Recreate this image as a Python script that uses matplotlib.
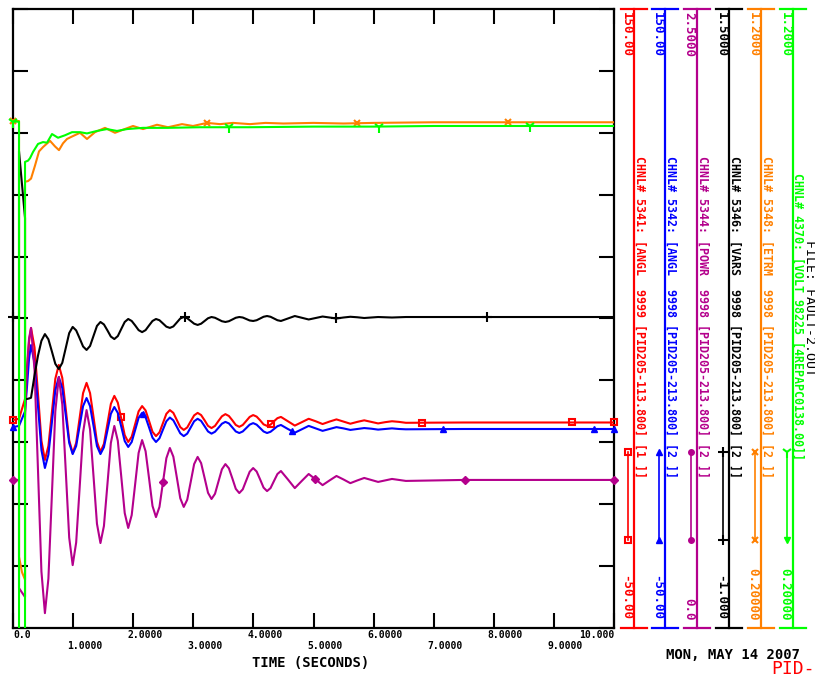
import numpy as np
import matplotlib
matplotlib.use('Agg')
import matplotlib.pyplot as plt
from matplotlib import transforms

# ---------------- data ----------------
# shared time base (s) for the four swinging channels, after fault clearing
t_swing = [0.300, 0.358, 0.416, 0.473, 0.531, 0.589, 0.647, 0.704,
           0.762, 0.820, 0.878, 0.935, 0.993, 1.051, 1.109, 1.166,
           1.224, 1.282, 1.340, 1.397, 1.455, 1.513, 1.571, 1.628,
           1.686, 1.744, 1.802, 1.859, 1.917, 1.975, 2.033, 2.090,
           2.148, 2.206, 2.264, 2.321, 2.379, 2.437, 2.495, 2.552,
           2.610, 2.668, 2.726, 2.783, 2.841, 2.899, 2.957, 3.014,
           3.072, 3.130, 3.188, 3.245, 3.303, 3.361, 3.419, 3.476,
           3.534, 3.592, 3.650, 3.707, 3.765, 3.823, 3.881, 3.938,
           3.996, 4.054, 4.112, 4.169, 4.227, 4.285, 4.343, 4.400,
           4.458,
           4.574, 4.689, 4.805, 4.920, 5.036, 5.151, 5.267, 5.382,
           5.498, 5.613, 5.729, 5.844, 5.960, 6.075, 6.191, 6.306,
           6.422, 6.537,
           7.5, 8.5, 10.0]

# CHNL 5341 CANGL (deg)
red_t = [0.0, 0.1, 0.2, 0.233, 0.267] + t_swing
red_v = [17.2, 17.6, 24.0, 33.0, 42.5,
         46.9, 40.7, 25.6, 10.5, 4.3, 8.8, 19.7, 30.5,
         35.0, 30.8, 20.8, 10.7, 6.5, 9.8, 17.9, 25.9,
         29.2, 25.9, 18.1, 10.2, 6.9, 9.5, 16.0, 22.4,
         25.0, 22.8, 17.6, 12.3, 10.1, 11.8, 15.9, 20.0,
         21.7, 20.3, 16.9, 13.4, 12.0, 13.2, 16.2, 19.2,
         20.4, 19.5, 17.2, 14.9, 14.0, 14.8, 16.8, 18.7,
         19.5, 18.8, 17.1, 15.3, 14.6, 15.3, 16.9, 18.4,
         19.1, 18.5, 17.1, 15.6, 15.0, 15.6, 16.9, 18.2,
         18.8, 18.3, 17.1, 15.8, 15.3, 15.7, 16.8, 17.8,
         18.2,
         16.8, 15.4, 16.5, 17.6, 16.8, 15.9, 16.7, 17.4,
         16.7, 16.0, 16.6, 17.1, 16.6, 16.1, 16.5, 16.8,
         16.6, 16.3,
         16.4, 16.4, 16.4]

# CHNL 5342 CANGL (deg)
blue_t = [0.0, 0.1, 0.2, 0.233, 0.267] + t_swing
blue_v = [14.9, 15.3, 20.0, 28.0, 37.0,
          41.4, 35.6, 21.6, 7.5, 1.7, 6.0, 16.4, 26.8,
          31.1, 27.5, 18.7, 9.8, 6.2, 8.8, 15.3, 21.7,
          24.3, 21.7, 15.3, 8.8, 6.2, 8.4, 13.8, 19.2,
          21.4, 19.5, 15.0, 10.4, 8.5, 10.1, 14.0, 17.9,
          19.5, 18.1, 14.8, 11.5, 10.1, 11.3, 14.1, 16.8,
          18.0, 17.1, 15.0, 12.9, 12.0, 12.8, 14.8, 16.8,
          17.6, 16.9, 15.2, 13.5, 12.8, 13.4, 14.7, 16.0,
          16.6, 16.1, 14.8, 13.5, 13.0, 13.5, 14.6, 15.7,
          16.2, 15.7, 14.6, 13.5, 13.0, 13.4, 14.3, 15.2,
          15.6,
          14.3, 13.1, 14.2, 15.3, 14.5, 13.7, 14.3, 14.9,
          14.5, 14.0, 14.3, 14.6, 14.4, 14.1, 14.3, 14.5,
          14.3, 14.2,
          14.3, 14.3, 14.3]

# CHNL 5344 CPOWR (pu)
purple_t = [0.0, 0.1, 0.1, 0.2, 0.2, 0.233, 0.267] + t_swing
purple_v = [0.598, 0.598, 0.161, 0.125, 0.85, 1.05, 1.17,
            1.212, 1.044, 0.636, 0.228, 0.060, 0.199, 0.537, 0.875,
            1.014, 0.903, 0.634, 0.365, 0.254, 0.345, 0.567, 0.789,
            0.880, 0.802, 0.612, 0.421, 0.343, 0.412, 0.580, 0.747,
            0.816, 0.756, 0.610, 0.464, 0.404, 0.456, 0.582, 0.707,
            0.759, 0.714, 0.604, 0.493, 0.448, 0.489, 0.588, 0.686,
            0.727, 0.692, 0.608, 0.524, 0.489, 0.518, 0.590, 0.662,
            0.691, 0.666, 0.606, 0.546, 0.521, 0.542, 0.592, 0.641,
            0.662, 0.645, 0.604, 0.562, 0.545, 0.560, 0.596, 0.631,
            0.646, 0.632, 0.600, 0.567, 0.553, 0.565, 0.594, 0.622,
            0.634,
            0.600, 0.565, 0.594, 0.622, 0.600, 0.577, 0.596, 0.614,
            0.600, 0.585, 0.596, 0.606, 0.598, 0.590, 0.596, 0.602,
            0.598, 0.594,
            0.598, 0.598, 0.598]

# CHNL 5346 CVARS (pu)
black_t = [0.0, 0.1, 0.1, 0.2, 0.2, 0.233, 0.267] + t_swing
black_v = [0.256, 0.256, 0.926, 0.656, -0.075, -0.075, -0.073,
           -0.070, 0.020, 0.100, 0.160, 0.187, 0.166, 0.117, 0.067,
           0.046, 0.071, 0.131, 0.191, 0.216, 0.202, 0.170, 0.137,
           0.123, 0.139, 0.180, 0.220, 0.236, 0.226, 0.202, 0.177,
           0.167, 0.179, 0.208, 0.236, 0.248, 0.240, 0.222, 0.203,
           0.195, 0.203, 0.222, 0.240, 0.248, 0.243, 0.230, 0.217,
           0.212, 0.218, 0.234, 0.250, 0.256, 0.251, 0.240, 0.229,
           0.224, 0.229, 0.240, 0.251, 0.256, 0.253, 0.246, 0.239,
           0.236, 0.239, 0.246, 0.253, 0.256, 0.254, 0.248, 0.242,
           0.240, 0.243, 0.250, 0.257, 0.260, 0.257, 0.250, 0.243,
           0.240,
           0.250, 0.260, 0.253, 0.246, 0.252, 0.258, 0.254, 0.250,
           0.254, 0.257, 0.255, 0.252, 0.254, 0.256, 0.255, 0.254,
           0.255, 0.256,
           0.256, 0.256, 0.256]

# CHNL 5348 CETRM (pu)
orange_t = [0.0, 0.1, 0.1, 0.15, 0.2, 0.2, 0.25, 0.3, 0.366, 0.433,
            0.5, 0.616, 0.699, 0.765, 0.832, 0.898, 0.982, 1.115, 1.231, 1.364,
            1.531, 1.697, 1.830, 1.997, 2.163, 2.396, 2.579, 2.812, 2.995, 3.228,
            3.444, 3.661, 3.943, 4.2, 4.5, 5.0, 5.5, 6.0, 7.0, 8.0,
            9.0, 10.0]
orange_v = [1.019, 1.019, 0.315, 0.290, 0.278, 0.921, 0.922, 0.926, 0.947, 0.970,
            0.977, 0.987, 0.978, 0.972, 0.983, 0.990, 0.994, 1.000, 0.990, 1.001,
            1.008, 1.000, 1.005, 1.011, 1.006, 1.013, 1.009, 1.014, 1.011, 1.016,
            1.014, 1.016, 1.014, 1.016, 1.015, 1.016, 1.015, 1.016, 1.017, 1.017,
            1.017, 1.017]

# CHNL 4370 CVOLT (pu)
green_t = [0.0, 0.1, 0.1, 0.2, 0.2, 0.25, 0.283, 0.333, 0.416, 0.499,
           0.566, 0.649, 0.749, 0.865, 0.982, 1.115, 1.231, 1.397, 1.564, 1.730,
           1.897, 2.163, 2.563, 3.113, 3.943, 5.0, 6.0, 7.0, 8.0, 9.0,
           10.0]
green_v = [1.018, 1.018, 0.05, 0.05, 0.953, 0.955, 0.959, 0.969, 0.982, 0.985,
           0.984, 0.998, 0.992, 0.996, 1.001, 1.001, 0.999, 1.003, 1.006, 1.003,
           1.006, 1.008, 1.008, 1.009, 1.009, 1.010, 1.010, 1.011, 1.011, 1.011,
           1.011]

# symbol positions along each trace (s)
red_mk = [0.0, 1.797, 4.293, 6.805, 9.301, 10.0]
blue_mk = [0.0, 2.163, 4.642, 7.155, 9.667, 10.0]
purple_mk = [0.0, 2.496, 5.025, 7.521, 10.0]
black_mk = [0.0, 2.862, 5.374, 7.887]
orange_mk = [0.0, 3.228, 5.724, 8.236]
green_mk = [0.0, 3.594, 6.090, 8.602]

time_labels = ['0.0', '1.0000', '2.0000', '3.0000', '4.0000', '5.0000',
               '6.0000', '7.0000', '8.0000', '9.0000', '10.000']

top_labels = ['150.00', '150.00', '2.5000', '1.5000', '1.2000', '1.2000']
bottom_labels = ['-50.00', '-50.00', '0.0', '-1.000', '0.20000', '0.20000']
descriptions = ['CHNL# 5341: [ANGL  9999 [PID205-113.800] [1 ]]',
                'CHNL# 5342: [ANGL  9998 [PID205-213.800] [2 ]]',
                'CHNL# 5344: [POWR  9998 [PID205-213.800] [2 ]]',
                'CHNL# 5346: [VARS  9998 [PID205-213.800] [2 ]]',
                'CHNL# 5348: [ETRM  9998 [PID205-213.800] [2 ]]',
                'CHNL# 4370: [VOLT 98225 [4REPAPC0138.00]]']

RED, BLUE, PURPLE, BLACK, ORANGE, GREEN = '#ff0000', '#0000ff', '#b4008c', '#000000', '#ff8000', '#00ff00'

# ---------------- figure ----------------
W, H = 815, 678
L, R, T, B = 13, 614, 9, 628
mono = 'DejaVu Sans Mono'

fig = plt.figure(figsize=(W / 100, H / 100), dpi=100)
rect = [L / W, 1 - B / H, (R - L) / W, (B - T) / H]

ax = fig.add_axes(rect)
ax.set_xlim(0, 10)
ax.set_ylim(0, 10)
ax.set_xticks(np.arange(11))
ax.set_yticks(np.arange(11))
ax.tick_params(direction='in', length=11, width=1.5, top=True, right=True,
               labelbottom=False, labelleft=False)
for sp in ax.spines.values():
    sp.set_linewidth(1.6)

# staggered time labels
tb = transforms.blended_transform_factory(ax.transData, fig.transFigure)
for i, lab in enumerate(time_labels):
    y = 1 - (635 if i % 2 == 0 else 646) / H
    if i == 0:
        x, ha = 0, 'left'
    elif i == 10:
        x, ha = 10, 'right'
    else:
        x, ha = i - 0.1, 'left'
    ax.text(x, y, lab, transform=tb, ha=ha, va='center', fontsize=7,
            family=mono, weight='bold')
fig.text(311 / W, 1 - 663 / H, 'TIME (SECONDS)', ha='center', va='center',
         fontsize=10, family=mono, weight='bold')

# one transparent axes per channel, each with its own scale
channels = [
    (red_t, red_v, -50, 150, RED, red_mk, dict(marker='s', ms=5, mfc='none', mew=1.5)),
    (blue_t, blue_v, -50, 150, BLUE, blue_mk, dict(marker='^', ms=5)),
    (purple_t, purple_v, 0.0, 2.5, PURPLE, purple_mk, dict(marker='D', ms=4)),
    (black_t, black_v, -1.0, 1.5, BLACK, black_mk, dict(marker='+', ms=7, mew=1.5)),
    (orange_t, orange_v, 0.2, 1.2, ORANGE, orange_mk, dict(marker='x', ms=5, mew=1.5)),
    (green_t, green_v, 0.2, 1.2, GREEN, green_mk, dict(marker='1', ms=8, mew=1.5)),
]
for n, (t, v, lo, hi, col, mkt, mkw) in enumerate(channels):
    cax = fig.add_axes(rect, label='chan%d' % n)
    cax.set_xlim(0, 10)
    cax.set_ylim(lo, hi)
    cax.axis('off')
    cax.plot(t, v, color=col, lw=1.5)
    cax.plot(mkt, np.interp(mkt, t, v), ls='none', color=col, clip_on=False, **mkw)

# right-hand scale bars
ov = fig.add_axes([0, 0, 1, 1])
ov.set_xlim(0, W)
ov.set_ylim(H, 0)
ov.axis('off')

bar_x = [634, 665, 697, 729, 761, 793]
desc_dx = [5.5, 5.5, 5.5, 5.5, 5.5, 4.5]
desc_y = [156, 156, 156, 156, 156, 173]
key_marks = [(dict(marker='s', ms=5, mfc='none', mew=1.5), dict(marker='s', ms=5, mfc='none', mew=1.5)),
             (dict(marker='^', ms=5), dict(marker='^', ms=5)),
             (dict(marker='o', ms=4), dict(marker='o', ms=4)),
             (dict(marker='+', ms=7, mew=1.5), dict(marker='+', ms=7, mew=1.5)),
             (dict(marker='x', ms=5, mew=1.5), dict(marker='x', ms=5, mew=1.5)),
             (dict(marker='1', ms=8, mew=1.5), dict(marker='v', ms=5))]
colors = [RED, BLUE, PURPLE, BLACK, ORANGE, GREEN]

for x, col, top, bot, desc, dx, dy, (k1, k2) in zip(bar_x, colors, top_labels, bottom_labels,
                                                     descriptions, desc_dx, desc_y, key_marks):
    ov.plot([x, x], [T, B], color=col, lw=1.6)
    ov.plot([x - 13, x + 13], [T, T], color=col, lw=1.6)
    ov.plot([x - 13, x + 13], [B, B], color=col, lw=1.6)
    ov.text(x - 8, 12, top, rotation=-90, ha='center', va='top', color=col,
            fontsize=9, family=mono, weight='bold')
    ov.text(x - 8, 620, bot, rotation=-90, ha='center', va='bottom', color=col,
            fontsize=9, family=mono, weight='bold')
    ov.text(x + dx, dy, desc, rotation=-90, ha='center', va='top', color=col,
            fontsize=8.4, family=mono, weight='bold')
    ov.plot([x - 6, x - 6], [452, 540], color=col, lw=1.2)
    ov.plot([x - 6], [452], color=col, **k1)
    ov.plot([x - 6], [540], color=col, **k2)

ov.text(809.5, 240, 'FILE: FAULT-2.OUT', rotation=-90, ha='center', va='top',
        fontsize=9.5, family=mono)
ov.text(666, 655, 'MON, MAY 14 2007', ha='left', va='center', fontsize=10,
        family=mono, weight='bold')
ov.text(771, 674, 'PID-', ha='left', va='baseline', fontsize=13, color=RED, family=mono)

fig.savefig('out.png', dpi=100)
